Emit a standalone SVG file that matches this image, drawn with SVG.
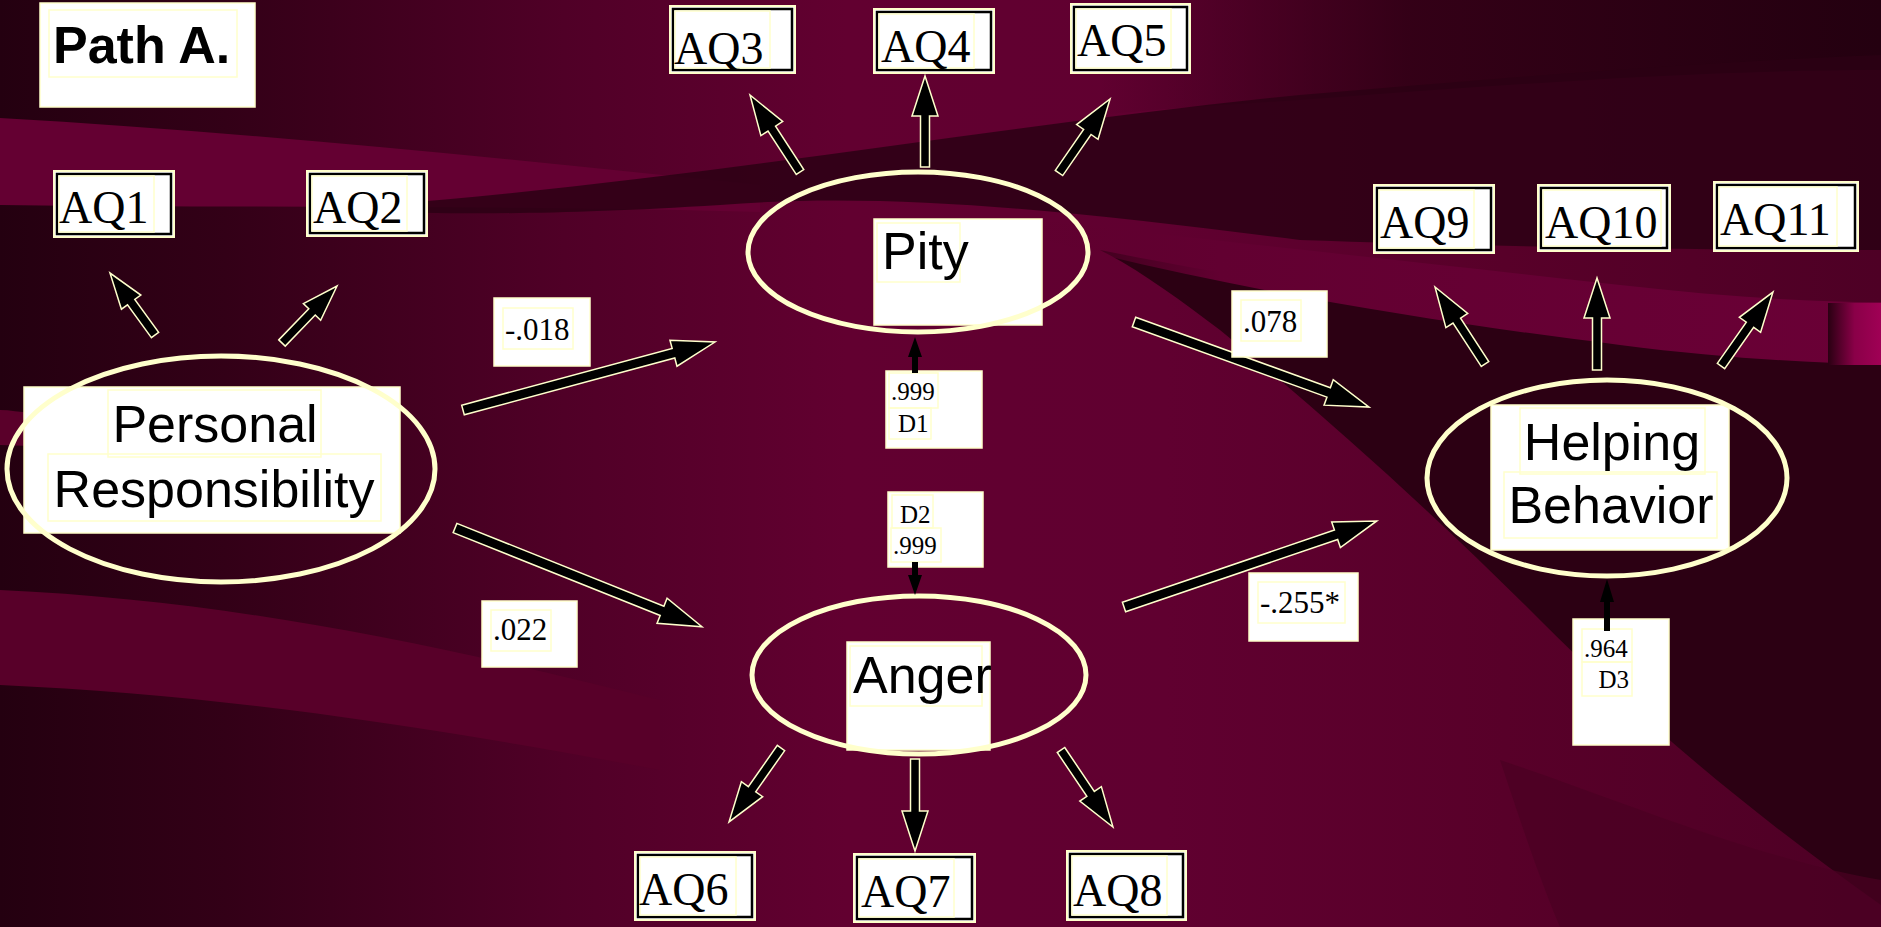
<svg xmlns="http://www.w3.org/2000/svg" width="1881" height="927" viewBox="0 0 1881 927">
<defs>
<linearGradient id="bg" x1="0" y1="0" x2="1" y2="0">
<stop offset="0" stop-color="#240010"/>
<stop offset="0.12" stop-color="#330017"/>
<stop offset="0.3" stop-color="#500027"/>
<stop offset="0.45" stop-color="#620030"/>
<stop offset="0.62" stop-color="#600030"/>
<stop offset="0.8" stop-color="#580029"/>
<stop offset="1" stop-color="#4e0025"/>
</linearGradient>
<linearGradient id="tr" x1="0" y1="0" x2="1" y2="0">
<stop offset="0" stop-color="#2a0012" stop-opacity="0"/>
<stop offset="0.4" stop-color="#2a0012" stop-opacity="0.8"/>
<stop offset="1" stop-color="#240010" stop-opacity="1"/>
</linearGradient>
<linearGradient id="cb" x1="0" y1="0" x2="1" y2="0">
<stop offset="0" stop-color="#5e002e" stop-opacity="0"/>
<stop offset="0.25" stop-color="#620031" stop-opacity="1"/>
<stop offset="1" stop-color="#6a0036" stop-opacity="1"/>
</linearGradient>
<linearGradient id="pink" x1="0" y1="0" x2="1" y2="0">
<stop offset="0" stop-color="#2a0012"/>
<stop offset="0.5" stop-color="#8a0048"/>
<stop offset="1" stop-color="#a00055"/>
</linearGradient>
<style>
.aqbox{fill:#fff;stroke:#ffffcc;stroke-width:2}
.aqin{fill:none;stroke:#000;stroke-width:2.5}
.tb{fill:none;stroke:#ffffcc;stroke-width:1.5}
.wbox{fill:#fff;stroke:#ffffcc;stroke-width:1.5}
.ell{fill:none;stroke:#ffffcc;stroke-width:5}
.aq{font-family:"Liberation Serif","Times New Roman",serif;font-size:46px;fill:#000}
.lab{font-family:"Liberation Serif","Times New Roman",serif;font-size:31px;fill:#000}
.dl{font-family:"Liberation Serif","Times New Roman",serif;font-size:25px;fill:#000}
.nl{font-family:"Liberation Sans",Arial,sans-serif;font-size:52px;fill:#000}
.arr{fill:#000;stroke:#ffffcc;stroke-width:1.5;stroke-linejoin:miter}
.darr{fill:#000}
</style>
</defs>
<g id="background">
<rect x="0" y="0" width="1881" height="927" fill="url(#bg)"/>
<path d="M1100,0 L1881,0 L1881,70 C1700,70 1500,85 1300,100 C1220,105 1150,110 1100,115 Z" fill="url(#tr)"/>
<path d="M0,118 C250,132 520,160 760,185 L760,212 C520,205 250,208 0,205 Z" fill="#640032"/>
<path d="M1100,250 C1300,290 1600,335 1881,360 L1881,905 C1760,820 1640,720 1540,620 C1440,520 1330,420 1220,330 C1180,300 1140,270 1100,250 Z" fill="#2c0013"/>
<path d="M380,205 C700,180 1000,125 1300,95 C1500,78 1700,62 1881,55 L1881,250 C1650,250 1450,245 1300,240 C1100,215 900,190 720,205 C560,215 460,214 380,212 Z" fill="#2c0014" opacity="0.85"/>
<path d="M1000,215 C1200,240 1420,262 1620,285 C1720,296 1800,302 1881,302 L1881,365 C1800,362 1720,358 1620,345 C1420,320 1200,285 1000,228 Z" fill="url(#cb)"/>
<rect x="1828" y="303" width="53" height="62" fill="url(#pink)"/>
<path d="M1500,760 C1620,800 1760,860 1881,880 L1881,927 L1560,927 C1540,880 1520,820 1500,760 Z" fill="#4a0022" opacity="0.7"/>
<path d="M0,590 C220,600 420,640 660,700 L660,770 C420,725 220,695 0,685 Z" fill="#580029"/>
<path d="M0,410 C10,410 20,412 30,413 L30,446 C20,446 10,445 0,445 Z" fill="#5a002a"/>
</g>
<g id="connectors">
<path class="arr" transform="translate(155,335) rotate(-126)" d="M0,-4.5 L40.6,-4.5 L40.6,-12 L76.6,0 L40.6,12 L40.6,4.5 L0,4.5 Z"/>
<path class="arr" transform="translate(282,343) rotate(-46)" d="M0,-4.5 L43.2,-4.5 L43.2,-12 L79.2,0 L43.2,12 L43.2,4.5 L0,4.5 Z"/>
<path class="arr" transform="translate(800,172) rotate(-123)" d="M0,-4.5 L51.8,-4.5 L51.8,-13 L91.8,0 L51.8,13 L51.8,4.5 L0,4.5 Z"/>
<path class="arr" transform="translate(925,167) rotate(-90)" d="M0,-4.5 L51,-4.5 L51,-13 L91,0 L51,13 L51,4.5 L0,4.5 Z"/>
<path class="arr" transform="translate(1059,173) rotate(-55.4)" d="M0,-4.5 L49.9,-4.5 L49.9,-13 L89.9,0 L49.9,13 L49.9,4.5 L0,4.5 Z"/>
<path class="arr" transform="translate(781,748) rotate(125.1)" d="M0,-4.5 L50.4,-4.5 L50.4,-13 L90.4,0 L50.4,13 L50.4,4.5 L0,4.5 Z"/>
<path class="arr" transform="translate(915,759) rotate(90)" d="M0,-4.5 L52,-4.5 L52,-13 L92,0 L52,13 L52,4.5 L0,4.5 Z"/>
<path class="arr" transform="translate(1061,750) rotate(56)" d="M0,-4.5 L52.9,-4.5 L52.9,-13 L92.9,0 L52.9,13 L52.9,4.5 L0,4.5 Z"/>
<path class="arr" transform="translate(1485,364) rotate(-123)" d="M0,-4.5 L51.8,-4.5 L51.8,-13 L91.8,0 L51.8,13 L51.8,4.5 L0,4.5 Z"/>
<path class="arr" transform="translate(1597,370) rotate(-90)" d="M0,-4.5 L52,-4.5 L52,-13 L92,0 L52,13 L52,4.5 L0,4.5 Z"/>
<path class="arr" transform="translate(1721,366) rotate(-54.9)" d="M0,-4.5 L50.4,-4.5 L50.4,-13 L90.4,0 L50.4,13 L50.4,4.5 L0,4.5 Z"/>
<path class="arr" transform="translate(463,410) rotate(-15.1)" d="M0,-5 L218,-5 L218,-13.5 L261,0 L218,13.5 L218,5 L0,5 Z"/>
<path class="arr" transform="translate(455,528) rotate(21.8)" d="M0,-5 L223,-5 L223,-13.5 L266,0 L223,13.5 L223,5 L0,5 Z"/>
<path class="arr" transform="translate(1134,322) rotate(19.9)" d="M0,-5 L207,-5 L207,-13.5 L250,0 L207,13.5 L207,5 L0,5 Z"/>
<path class="arr" transform="translate(1124,607) rotate(-18.8)" d="M0,-5 L224,-5 L224,-13.5 L267,0 L224,13.5 L224,5 L0,5 Z"/>
</g>
<g id="title">
<rect class="wbox" x="40" y="3" width="215" height="104"/>
<rect class="tb" x="49" y="10" width="188" height="67"/>
<text x="53" y="63" font-family="Liberation Sans, Arial, sans-serif" font-size="52" font-weight="bold" fill="#000">Path A.</text>
</g>
<g id="aq1"><rect class="aqbox" x="54" y="171" width="120" height="66"/><rect class="aqin" x="57" y="174" width="114" height="60"/><rect class="tb" x="59" y="176" width="95" height="56"/><text class="aq" x="59" y="223">AQ1</text></g>
<g id="aq2"><rect class="aqbox" x="307" y="171" width="120" height="65"/><rect class="aqin" x="310" y="174" width="114" height="59"/><rect class="tb" x="312" y="176" width="95" height="55"/><text class="aq" x="313" y="223">AQ2</text></g>
<g id="aq3"><rect class="aqbox" x="670" y="6" width="125" height="67"/><rect class="aqin" x="673" y="9" width="119" height="61"/><rect class="tb" x="675" y="11" width="95" height="57"/><text class="aq" x="674" y="64">AQ3</text></g>
<g id="aq4"><rect class="aqbox" x="874" y="9" width="120" height="64"/><rect class="aqin" x="877" y="12" width="114" height="58"/><rect class="tb" x="879" y="14" width="95" height="54"/><text class="aq" x="881" y="62">AQ4</text></g>
<g id="aq5"><rect class="aqbox" x="1071" y="4" width="119" height="69"/><rect class="aqin" x="1074" y="7" width="113" height="63"/><rect class="tb" x="1076" y="9" width="95" height="59"/><text class="aq" x="1077" y="56">AQ5</text></g>
<g id="aq6"><rect class="aqbox" x="635" y="852" width="120" height="68"/><rect class="aqin" x="638" y="855" width="114" height="62"/><rect class="tb" x="640" y="857" width="96" height="58"/><text class="aq" x="639" y="905">AQ6</text></g>
<g id="aq7"><rect class="aqbox" x="854" y="854" width="121" height="68"/><rect class="aqin" x="857" y="857" width="115" height="62"/><rect class="tb" x="859" y="859" width="95" height="58"/><text class="aq" x="861" y="907">AQ7</text></g>
<g id="aq8"><rect class="aqbox" x="1067" y="851" width="119" height="69"/><rect class="aqin" x="1070" y="854" width="113" height="63"/><rect class="tb" x="1072" y="856" width="95" height="59"/><text class="aq" x="1073" y="906">AQ8</text></g>
<g id="aq9"><rect class="aqbox" x="1374" y="185" width="120" height="68"/><rect class="aqin" x="1377" y="188" width="114" height="62"/><rect class="tb" x="1379" y="190" width="95" height="58"/><text class="aq" x="1380" y="238">AQ9</text></g>
<g id="aq10"><rect class="aqbox" x="1538" y="185" width="132" height="66"/><rect class="aqin" x="1541" y="188" width="126" height="60"/><rect class="tb" x="1543" y="190" width="118" height="56"/><text class="aq" x="1545" y="238">AQ10</text></g>
<g id="aq11"><rect class="aqbox" x="1714" y="182" width="144" height="69"/><rect class="aqin" x="1717" y="185" width="138" height="63"/><rect class="tb" x="1719" y="187" width="118" height="59"/><text class="aq" x="1720" y="235">AQ11</text></g>
<g id="personal">
<rect class="wbox" x="24" y="387" width="376" height="146"/>
<ellipse class="ell" cx="221" cy="469" rx="214" ry="113"/>
<rect class="tb" x="108" y="390" width="213" height="67"/>
<rect class="tb" x="48" y="454" width="333" height="67"/>
<text class="nl" x="215" y="442" text-anchor="middle">Personal</text>
<text class="nl" x="214" y="507" text-anchor="middle" font-size="53">Responsibility</text>
</g>
<g id="pity">
<rect class="wbox" x="874" y="219" width="168" height="106"/>
<ellipse class="ell" cx="918" cy="252" rx="170" ry="80"/>
<rect class="tb" x="877" y="223" width="83" height="59"/>
<text class="nl" x="882" y="269" font-size="46">Pity</text>
</g>
<g id="anger">
<rect class="wbox" x="847" y="642" width="143" height="108"/>
<ellipse class="ell" cx="919" cy="675" rx="167" ry="79"/>
<rect class="tb" x="850" y="646" width="132" height="60"/>
<text class="nl" x="853" y="693" font-size="47">Anger</text>
</g>
<g id="helping">
<rect class="wbox" x="1491" y="405" width="238" height="145"/>
<ellipse class="ell" cx="1607" cy="478" rx="180" ry="98"/>
<rect class="tb" x="1520" y="408" width="185" height="66"/>
<rect class="tb" x="1504" y="472" width="213" height="66"/>
<text class="nl" x="1612" y="460" text-anchor="middle">Helping</text>
<text class="nl" x="1611" y="523" text-anchor="middle">Behavior</text>
</g>
<g id="lab018"><rect class="wbox" x="494" y="298" width="96" height="68"/><rect class="tb" x="503" y="308" width="70" height="41"/><text class="lab" x="505" y="340">-.018</text></g>
<g id="lab022"><rect class="wbox" x="482" y="601" width="95" height="66"/><rect class="tb" x="491" y="610" width="60" height="41"/><text class="lab" x="493" y="640">.022</text></g>
<g id="lab078"><rect class="wbox" x="1232" y="291" width="95" height="66"/><rect class="tb" x="1241" y="300" width="60" height="41"/><text class="lab" x="1243" y="332">.078</text></g>
<g id="lab255"><rect class="wbox" x="1249" y="573" width="109" height="68"/><rect class="tb" x="1258" y="582" width="87" height="41"/><text class="lab" x="1260" y="613">-.255*</text></g>
<g id="d1">
<rect class="wbox" x="886" y="371" width="96" height="77"/>
<rect class="tb" x="889" y="373" width="49" height="35"/>
<rect class="tb" x="889" y="408" width="42" height="31"/>
<text class="dl" x="891" y="400">.999</text>
<text class="dl" x="898" y="432">D1</text>
<path class="darr" d="M912,373 L912,357 L908,357 L915,337 L922,357 L918,357 L918,373 Z"/>
</g>
<g id="d2">
<rect class="wbox" x="888" y="492" width="95" height="75"/>
<rect class="tb" x="892" y="495" width="41" height="33"/>
<rect class="tb" x="891" y="528" width="50" height="34"/>
<text class="dl" x="900" y="523">D2</text>
<text class="dl" x="893" y="554">.999</text>
<path class="darr" d="M912,562 L912,575 L908,575 L915,595 L922,575 L918,575 L918,562 Z"/>
</g>
<g id="d3">
<rect class="wbox" x="1573" y="619" width="96" height="126"/>
<rect class="tb" x="1582" y="629" width="50" height="33"/>
<rect class="tb" x="1582" y="662" width="50" height="34"/>
<text class="dl" x="1584" y="657">.964</text>
<text class="dl" x="1629" y="688" text-anchor="end">D3</text>
<path class="darr" d="M1604,631 L1604,602 L1600,602 L1607,579 L1614,602 L1610,602 L1610,631 Z"/>
</g>
</svg>
